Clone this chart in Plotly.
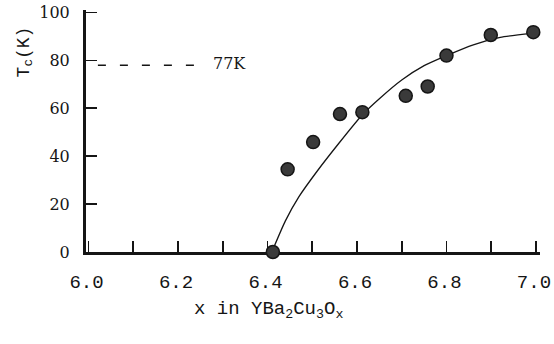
import plotly.graph_objects as go

# ---- data ----
x_points = [6.412, 6.445, 6.502, 6.562, 6.612, 6.709, 6.758, 6.800, 6.899, 6.994]
tc_points = [0.0, 34.5, 45.9, 57.6, 58.4, 65.2, 69.1, 82.0, 90.6, 91.8]

x_curve = [6.412, 6.440, 6.470, 6.510, 6.560, 6.612, 6.650, 6.700, 6.750, 6.800, 6.860, 6.920, 6.990]
tc_curve = [1.0, 13.0, 23.0, 33.5, 45.5, 57.3, 64.0, 71.8, 77.8, 82.0, 86.5, 89.6, 91.3]

ref_x = [6.021, 6.243]
ref_tc = [78.0, 78.0]
ref_label = "77K"

x_ticks = [6.0, 6.2, 6.4, 6.6, 6.8, 7.0]
x_ticklabels = ["6.0", "6.2", "6.4", "6.6", "6.8", "7.0"]
y_ticks = [0, 20, 40, 60, 80, 100]

x_title = "x in YBa<sub>2</sub>Cu<sub>3</sub>O<sub>x</sub>"
y_title = "T<sub>c</sub>(K)"

INK = "#151515"
MONO = "Liberation Mono"
SERIF = "DejaVu Serif"

W, H = 554, 344
L, T = 86, 10
PW, PH = 454, 242.5

fig = go.Figure()

fig.add_trace(go.Scatter(
    x=ref_x, y=ref_tc, mode="lines",
    line=dict(color=INK, width=1.4, dash="8px,14px"),
    hoverinfo="skip", showlegend=False,
))

fig.add_trace(go.Scatter(
    x=x_curve, y=tc_curve, mode="lines",
    line=dict(color=INK, width=1.3, shape="spline", smoothing=0.6),
    hoverinfo="skip", showlegend=False,
))

fig.add_trace(go.Scatter(
    x=x_points, y=tc_points, mode="markers",
    marker=dict(size=13, color="#3a3a3a", line=dict(color=INK, width=1.5)),
    cliponaxis=False, showlegend=False,
))

fig.add_annotation(
    x=6.274, y=78.5, xref="x", yref="y", text=ref_label, showarrow=False,
    xanchor="left", yanchor="middle",
    font=dict(family=SERIF, size=16, color=INK),
)

fig.add_annotation(
    x=(268 - L) / PW, y=(252.5 - 311) / PH, xref="paper", yref="paper",
    text=x_title, showarrow=False, xanchor="center", yanchor="middle",
    font=dict(family=MONO, size=19, color=INK),
)

fig.add_annotation(
    x=(25 - L) / PW, y=(252.5 - 52.5) / PH, xref="paper", yref="paper",
    text=y_title, showarrow=False, textangle=-90, xanchor="center", yanchor="middle",
    font=dict(family=MONO, size=18, color=INK),
)

fig.update_layout(
    width=W, height=H,
    margin=dict(l=L, r=W - L - PW, t=T, b=H - T - PH, autoexpand=False),
    paper_bgcolor="white", plot_bgcolor="white",
    showlegend=False,
    xaxis=dict(
        range=[5.9944, 7.009],
        tickvals=x_ticks, ticktext=x_ticklabels,
        ticks="inside", ticklen=11, tickwidth=1.6, tickcolor=INK,
        minor=dict(dtick=0.1, tick0=6.0, ticks="inside", ticklen=11, tickwidth=1.6, tickcolor=INK),
        showline=True, linewidth=3, linecolor=INK,
        showgrid=False, zeroline=False,
        tickfont=dict(family=MONO, size=19, color=INK),
        ticklabelstandoff=10,
        ticklabelshift=-2,
        ticklabeloverflow="allow",
        layer="below traces",
    ),
    yaxis=dict(
        range=[0, 101.04],
        tickvals=y_ticks,
        ticks="inside", ticklen=11, tickwidth=1.6, tickcolor=INK,
        showline=True, linewidth=3, linecolor=INK,
        showgrid=False, zeroline=False,
        tickfont=dict(family=SERIF, size=16, color=INK),
        ticklabelstandoff=10,
        ticklabeloverflow="allow",
        layer="below traces",
    ),
)

fig.write_html(
    "out.html",
    config={"displayModeBar": False, "staticPlot": True},
    post_script="document.body.style.margin='0';document.body.style.padding='0';"
                "document.body.style.overflow='hidden';",
)
